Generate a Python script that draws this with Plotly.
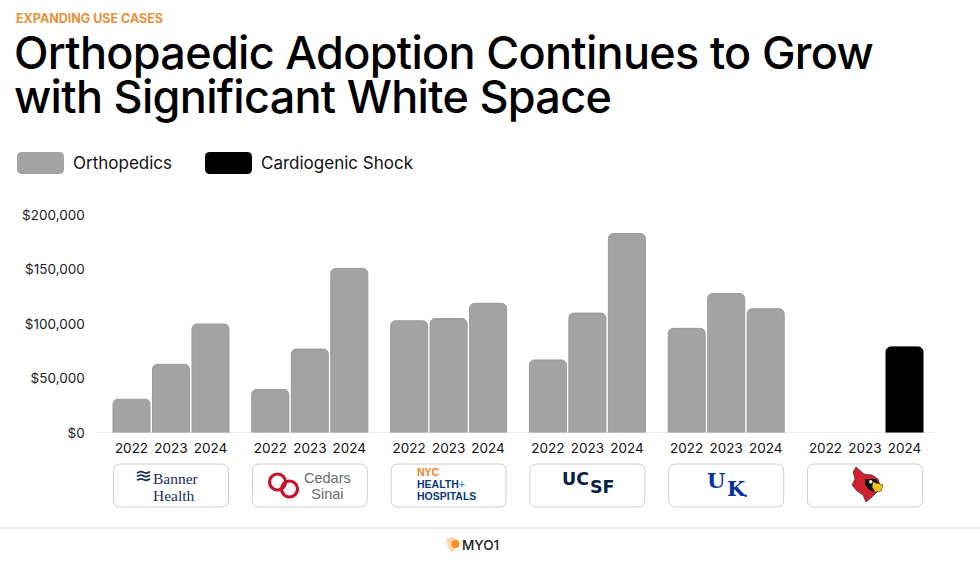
import plotly.graph_objects as go

# ---------------- data ----------------
hospitals = ["Banner Health", "Cedars Sinai", "NYC Health + Hospitals", "UCSF",
             "University of Kentucky", "University of Louisville"]
years = ["2022", "2023", "2024"]
series_names = ["Orthopedics", "Cardiogenic Shock"]
orthopedics = [
    [31000, 63000, 100000],
    [40000, 77000, 151000],
    [103000, 105000, 119000],
    [67000, 110000, 183000],
    [96000, 128000, 114000],
    [None, None, None],
]
cardiogenic = [
    [None, None, None],
    [None, None, None],
    [None, None, None],
    [None, None, None],
    [None, None, None],
    [None, None, 79000],
]
y_ticks = [0, 50000, 100000, 150000, 200000]
y_tick_text = ["$" + f"{v:,}" for v in y_ticks]

# ---------------- styles ----------------
W, H = 980, 565
GRAY = "#a3a3a3"
BLACK = "#000000"
FONT = "Inter"


def X(px):
    return px / W


def Y(py):
    return 1 - py / H


def rrect(x0, y0, x1, y1, r):
    pts = [
        ("M", [(x0 + r, y0)]),
        ("L", [(x1 - r, y0)]),
        ("Q", [(x1, y0), (x1, y0 + r)]),
        ("L", [(x1, y1 - r)]),
        ("Q", [(x1, y1), (x1 - r, y1)]),
        ("L", [(x0 + r, y1)]),
        ("Q", [(x0, y1), (x0, y1 - r)]),
        ("L", [(x0, y0 + r)]),
        ("Q", [(x0, y0), (x0 + r, y0)]),
    ]
    s = ""
    for cmd, ps in pts:
        s += cmd + " " + " ".join(f"{X(a):.5f},{Y(b):.5f}" for a, b in ps) + " "
    return s + "Z"


def poly(ox, oy, pts):
    s = "M " + " L ".join(f"{X(ox + a):.5f},{Y(oy + b):.5f}" for a, b in pts)
    return s + " Z"


def lines(parts, size, extra=""):
    return "<br>".join(f"<span style='font-size:{size}px;{extra}'>{p}</span>" for p in parts)


# group geometry (pixels)
G0, PITCH, UNIT = 113, 138.8, 39.5
BASE_PX, TOP_PX = 433, 215

fig = go.Figure()
layout_axes = {}
for g, name in enumerate(hospitals):
    ax = "x" if g == 0 else f"x{g + 1}"
    left = G0 + PITCH * g - 1.25
    layout_axes["xaxis" if g == 0 else f"xaxis{g + 1}"] = dict(
        type="category", categoryorder="array", categoryarray=years,
        domain=[X(left), X(left + 3 * UNIT)], anchor="y",
        showline=False, showgrid=False, zeroline=False, ticks="",
        tickfont=dict(family=FONT, size=13.5, color="#111"),
        ticklabelstandoff=5, fixedrange=True, automargin=False,
    )
    for sname, vals, col, lc in ((series_names[0], orthopedics[g], GRAY, "#999999"),
                                 (series_names[1], cardiogenic[g], BLACK, BLACK)):
        if all(v is None for v in vals):
            continue
        fig.add_trace(go.Bar(
            x=years, y=vals, name=sname, xaxis=ax, yaxis="y",
            marker=dict(color=col, line=dict(color=lc, width=1), cornerradius=5),
            showlegend=False,
            hovertemplate=name + " %{x}: $%{y:,.0f}<extra>" + sname + "</extra>",
        ))

shapes = []
annotations = []

# baseline
shapes.append(dict(type="line", xref="paper", yref="y", x0=X(97), x1=X(934), y0=0, y1=0,
                   line=dict(color="#dddddd", width=1)))

# logo boxes
for g in range(len(hospitals)):
    x0 = G0 + PITCH * g + 0.5
    shapes.append(dict(type="path", xref="paper", yref="paper",
                       path=rrect(x0, 464, x0 + 115, 507, 7),
                       line=dict(color="#cfcfcf", width=1), fillcolor="white"))

# legend
legend_items = [(series_names[0], GRAY, 17), (series_names[1], BLACK, 205)]
for label, col, lx in legend_items:
    shapes.append(dict(type="path", xref="paper", yref="paper",
                       path=rrect(lx, 152, lx + 47, 174, 5),
                       line=dict(color=col, width=0), fillcolor=col))
    annotations.append(dict(text=label, x=X(lx + 54), y=Y(162.5), xref="paper", yref="paper",
                            xanchor="left", yanchor="middle", showarrow=False,
                            font=dict(family=FONT, size=17, color="#111")))


def txt(t, px, py, size, color, family=FONT, anchor="center", weight="normal", align="center"):
    annotations.append(dict(text=t, x=X(px), y=Y(py), xref="paper", yref="paper",
                            xanchor=anchor, yanchor="middle", showarrow=False, align=align,
                            borderpad=0, borderwidth=0,
                            font=dict(family=family, size=size, color=color, weight=weight)))


# header
txt("EXPANDING USE CASES", 16, 18.5, 12.5, "#E8913A", anchor="left", weight="bold")
txt(lines(["Orthopaedic Adoption Continues to Grow", "with Significant White Space"], 45,
          "letter-spacing:-0.7px"),
    14, 74.5, 33.8, "#000", anchor="left", weight=500, align="left")

# Banner Health
NAVY_B = "#1d2d5e"
for i in range(3):
    yy = 472 + 3.6 * i
    shapes.append(dict(type="path", xref="paper", yref="paper", line=dict(color=NAVY_B, width=1.8),
                       path=(f"M {X(137):.5f},{Y(yy + 1):.5f} Q {X(140.5):.5f},{Y(yy - 1.5):.5f} "
                             f"{X(144):.5f},{Y(yy + 0.5):.5f} Q {X(147):.5f},{Y(yy + 2):.5f} "
                             f"{X(150):.5f},{Y(yy - 0.5):.5f}")))
txt(lines(["Banner", "Health"], 15.5), 153, 486.5, 13.3, NAVY_B, family="Liberation Serif",
    anchor="left", align="left")

# Cedars Sinai
RED_C = "#c8102e"
for cx, cy in ((277.5, 482), (289.5, 489)):
    shapes.append(dict(type="circle", xref="paper", yref="paper",
                       x0=X(cx - 8), x1=X(cx + 8), y0=Y(cy - 8), y1=Y(cy + 8),
                       line=dict(color=RED_C, width=3.2)))
txt(lines(["Cedars", "Sinai"], 14.5), 327, 485.5, 12.4, "#6b6b6b", family="Liberation Sans")

# NYC Health + Hospitals
nyc = ("<span style='font-size:10.5px;color:#f58220'>NYC</span><br>"
       "<span style='font-size:10.5px'>HEALTH</span><span style='font-size:10.5px;color:#3ea0d8'>+</span><br>"
       "<span style='font-size:10.5px'>HOSPITALS</span>")
txt(nyc, 417, 484, 9.1, "#0a3a7a", family="Liberation Sans", anchor="left", weight="bold",
    align="left")

# UCSF
txt("UC", 589, 479, 17.5, "#052049", family="DejaVu Sans", anchor="right", weight="bold")
txt("SF", 590, 487, 17.5, "#052049", family="DejaVu Sans", anchor="left", weight="bold")

# Kentucky
txt("U", 725, 481, 21, "#0033a0", family="DejaVu Serif", anchor="right", weight="bold")
txt("K", 726.5, 489, 21, "#0033a0", family="DejaVu Serif", anchor="left", weight="bold")
shapes.append(dict(type="circle", xref="paper", yref="paper", line=dict(width=0), fillcolor="#0033a0",
                   x0=X(744.5), x1=X(747), y0=Y(494.5), y1=Y(497)))

# Louisville cardinal
bx, by = 852, 467
shapes.append(dict(type="path", xref="paper", yref="paper", line=dict(width=0.6, color="#222"),
                   fillcolor="#d3202f",
                   path=poly(bx, by, [(4, 0), (12, 7), (20, 8), (26, 12), (28, 18), (25, 25),
                                      (20, 30), (14, 35), (11, 28), (5, 24), (0, 18),
                                      (3, 12), (1, 5)])))
shapes.append(dict(type="path", xref="paper", yref="paper", line=dict(width=0),
                   fillcolor="#111",
                   path=poly(bx, by, [(13, 12), (24, 12), (27, 17), (22, 25), (16, 22), (13, 17)])))
shapes.append(dict(type="path", xref="paper", yref="paper", line=dict(width=0.6, color="#333"),
                   fillcolor="#f5c518",
                   path=poly(bx, by, [(21, 15), (31, 18), (29, 24), (23, 25), (20, 20)])))
shapes.append(dict(type="circle", xref="paper", yref="paper", line=dict(width=0),
                   fillcolor="white", x0=X(bx + 17), x1=X(bx + 20.5), y0=Y(by + 13), y1=Y(by + 16.5)))

# footer
shapes.append(dict(type="line", xref="paper", yref="paper", x0=0, x1=1, y0=Y(528), y1=Y(528),
                   line=dict(color="#dcdcdc", width=1.2)))
shapes.append(dict(type="path", xref="paper", yref="paper", line=dict(width=0), fillcolor="#fcd5b0",
                   path=poly(0, 0, [(446, 539), (452, 537), (458, 540), (457, 547),
                                    (452, 553), (448, 548)])))
shapes.append(dict(type="circle", xref="paper", yref="paper", line=dict(width=0), fillcolor="#f7931e",
                   x0=X(451.5), x1=X(459.5), y0=Y(540), y1=Y(548)))
txt("MYO1", 462, 545, 13.5, "#222", anchor="left", weight=500)

fig.update_layout(
    width=W, height=H,
    margin=dict(l=0, r=0, t=0, b=0, pad=0, autoexpand=False),
    paper_bgcolor="white", plot_bgcolor="white",
    barmode="overlay", bargap=0.063,
    yaxis=dict(range=[0, 200000], domain=[Y(BASE_PX), Y(TOP_PX)], tickvals=y_ticks,
               ticktext=y_tick_text, showgrid=False, zeroline=False, automargin=False,
               showline=False, ticks="", ticklabelstandoff=26, fixedrange=True,
               tickfont=dict(family=FONT, size=13.5, color="#222")),
    shapes=shapes, annotations=annotations,
    showlegend=False,
    **layout_axes,
)

fig.write_html("out.html", config={"displayModeBar": False},
               post_script="document.body.style.margin='0';")
